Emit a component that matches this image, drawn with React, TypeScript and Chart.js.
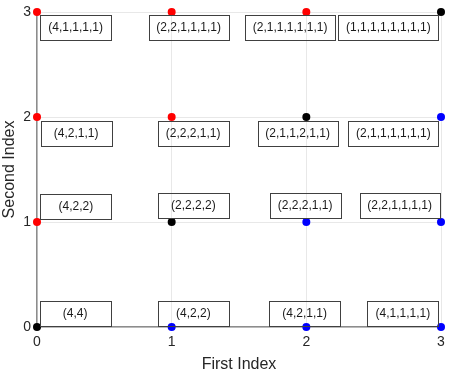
import React, { useEffect, useRef } from "react";
import { Chart, registerables } from "chart.js";

Chart.register(...registerables);

// Grid points (First Index, Second Index)
const firstIndex = [0, 1, 2, 3, 0, 1, 2, 3, 0, 1, 2, 3, 0, 1, 2, 3];
const secondIndex = [3, 3, 3, 3, 2, 2, 2, 2, 1, 1, 1, 1, 0, 0, 0, 0];
const pointColors = [
  "red", "red", "red", "black",
  "red", "red", "black", "blue",
  "red", "black", "blue", "blue",
  "black", "blue", "blue", "blue",
];
const partitionLabels = [
  "(4,1,1,1,1)", "(2,2,1,1,1,1)", "(2,1,1,1,1,1,1)", "(1,1,1,1,1,1,1,1)",
  "(4,2,1,1)", "(2,2,2,1,1)", "(2,1,1,2,1,1)", "(2,1,1,1,1,1,1)",
  "(4,2,2)", "(2,2,2,2)", "(2,2,2,1,1)", "(2,2,1,1,1,1)",
  "(4,4)", "(4,2,2)", "(4,2,1,1)", "(4,1,1,1,1)",
];
// Label box anchor (center) in data units
const labelX = [
  0.287, 1.126, 1.880, 2.609,
  0.290, 1.159, 1.935, 2.646,
  0.289, 1.161, 1.991, 2.693,
  0.283, 1.161, 1.987, 2.717,
];
const labelY = [
  2.853, 2.853, 2.853, 2.853,
  1.842, 1.842, 1.842, 1.842,
  1.152, 1.157, 1.157, 1.164,
  0.135, 0.135, 0.135, 0.135,
];
const tickValues = [0, 1, 2, 3];

const colorMap: Record<string, string> = {
  red: "#ff0000",
  black: "#000000",
  blue: "#0000ff",
};

const labelBoxPlugin = {
  id: "labelBoxes",
  afterDatasetsDraw(chart: any) {
    const { ctx, scales } = chart;
    const xs = scales.x;
    const ys = scales.y;
    ctx.save();
    ctx.font = "12px 'Liberation Sans', Arial, sans-serif";
    ctx.textAlign = "center";
    ctx.textBaseline = "middle";
    partitionLabels.forEach((txt, i) => {
      const cx = xs.getPixelForValue(labelX[i]);
      const cy = ys.getPixelForValue(labelY[i]);
      const tw = ctx.measureText(txt).width;
      const w = Math.max(71, tw + 15);
      const h = 24.5;
      ctx.strokeStyle = "#404040";
      ctx.lineWidth = 1;
      ctx.strokeRect(Math.round(cx - w / 2) + 0.5, Math.round(cy - h / 2) + 0.5, Math.round(w), Math.round(h));
      ctx.fillStyle = "#1a1a1a";
      ctx.fillText(txt, cx, cy + 0.5);
    });
    ctx.restore();
  },
};

export default function App() {
  const ref = useRef<HTMLCanvasElement | null>(null);
  useEffect(() => {
    if (!ref.current) return;
    const data = firstIndex.map((x, i) => ({ x, y: secondIndex[i] }));
    const chart = new Chart(ref.current, {
      type: "scatter",
      data: {
        datasets: [
          {
            data,
            backgroundColor: pointColors.map((c) => colorMap[c]),
            borderColor: pointColors.map((c) => colorMap[c]),
            pointRadius: 4,
            pointHoverRadius: 4,
            borderWidth: 0,
            clip: false as any,
          },
        ],
      },
      options: {
        responsive: false,
        animation: false,
        layout: { autoPadding: false, padding: { left: 0, right: 9, top: 12, bottom: 0 } },
        plugins: { legend: { display: false }, tooltip: { enabled: false } },
        scales: {
          x: {
            type: "linear",
            min: 0,
            max: 3,
            afterBuildTicks: (s: any) => {
              s.ticks = tickValues.map((v) => ({ value: v }));
            },
            afterFit: (s: any) => {
              s.height = 52;
              s.paddingLeft = 0;
              s.paddingRight = 0;
            },
            ticks: {
              color: "#262626",
              font: { family: "'Liberation Sans', Arial, sans-serif", size: 14 },
              padding: 7,
              maxRotation: 0,
            },
            grid: { color: "#e8e8e8", drawTicks: false },
            border: { color: "#8c8c8c", width: 1.5 },
            title: {
              display: true,
              text: "First Index",
              color: "#262626",
              font: { family: "'Liberation Sans', Arial, sans-serif", size: 16 },
              padding: { top: 0, bottom: 5 },
            },
          },
          y: {
            type: "linear",
            min: 0,
            max: 3,
            afterBuildTicks: (s: any) => {
              s.ticks = tickValues.map((v) => ({ value: v }));
            },
            afterFit: (s: any) => {
              s.width = 37;
              s.paddingTop = 0;
              s.paddingBottom = 0;
            },
            ticks: {
              color: "#262626",
              font: { family: "'Liberation Sans', Arial, sans-serif", size: 14 },
              padding: 6,
            },
            grid: { color: "#e8e8e8", drawTicks: false },
            border: { color: "#8c8c8c", width: 1.5 },
            title: {
              display: true,
              text: "Second Index",
              color: "#262626",
              font: { family: "'Liberation Sans', Arial, sans-serif", size: 16 },
              padding: { top: 0, bottom: 0 },
            },
          },
        },
      },
      plugins: [labelBoxPlugin],
    });
    return () => chart.destroy();
  }, []);
  return (
    <div style={{ position: "absolute", left: 0, top: 0, width: 450, height: 379, background: "#fff" }}>
      <canvas ref={ref} width={450} height={379} style={{ display: "block" }} />
    </div>
  );
}
